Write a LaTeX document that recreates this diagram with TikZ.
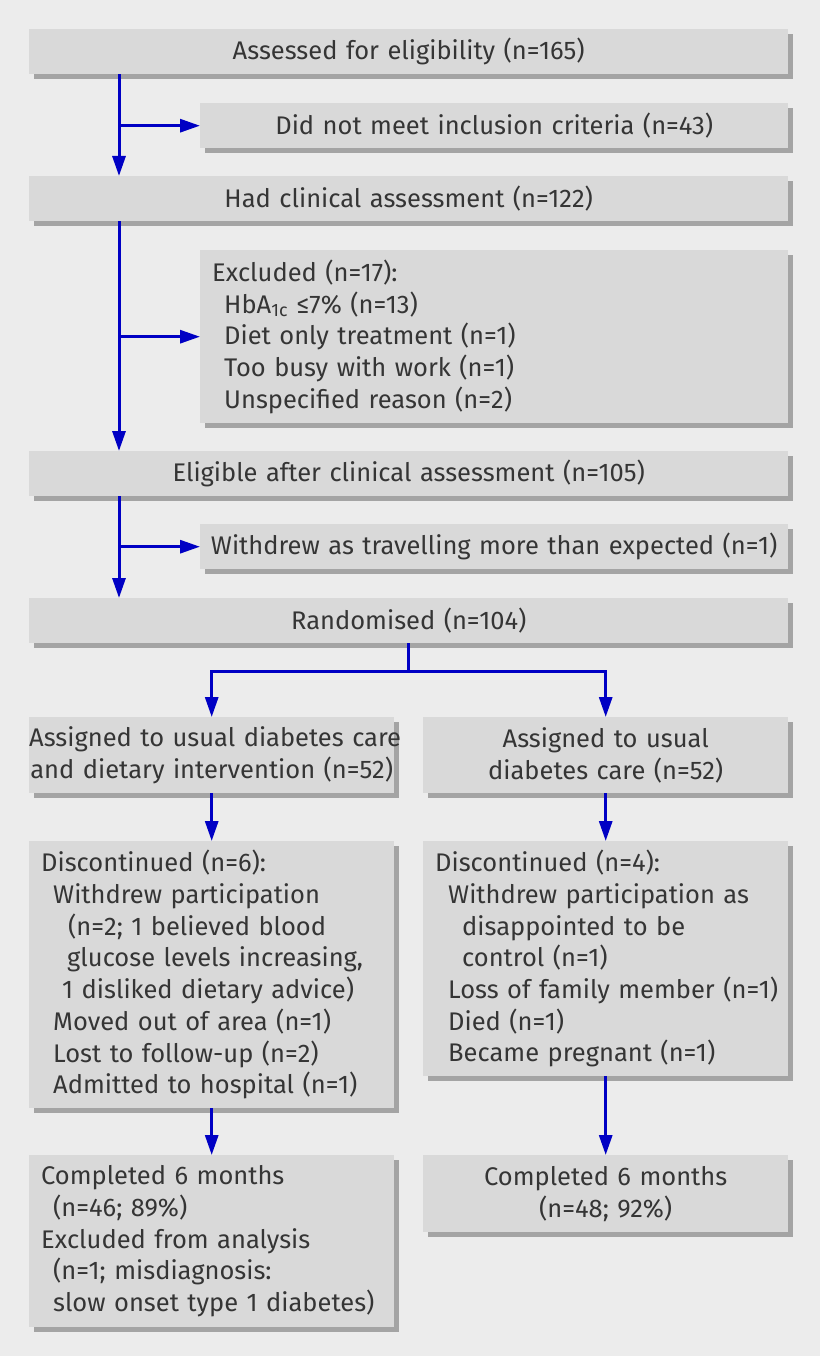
\documentclass[tikz,border=0pt]{standalone}
\usepackage{fontspec}
\setmainfont{Fira Sans}
\usetikzlibrary{arrows.meta,shadows,calc}
\definecolor{bg}{HTML}{ECECEC}
\definecolor{boxfill}{HTML}{D9D9D9}
\definecolor{shadowc}{HTML}{A4A4A4}
\definecolor{arrowblue}{HTML}{0000C4}
\definecolor{txt}{HTML}{353535}
\tikzset{
  box/.style={fill=boxfill, draw=none, inner sep=0pt, text=txt, anchor=north west,
    font=\fontsize{25.5}{31.7}\selectfont,
    drop shadow={shadow xshift=5pt, shadow yshift=-5pt, fill=shadowc, opacity=1}},
  lbox/.style={box, align=left, inner xsep=12pt},
  cbox/.style={box, align=center},
  flow/.style={draw=arrowblue, line width=3pt},
  arr/.style={flow, -{Triangle[length=20pt,width=13pt]}},
}
\newcommand{\li}[2]{\hspace*{#1pt}\mbox{#2}}
\begin{document}
\begin{tikzpicture}[x=1pt,y=-1pt]
\fill[bg] (0,0) rectangle (820,1356);
\useasboundingbox (0,0) rectangle (820,1356);

\node[cbox, text width=759pt, minimum height=45pt] (b1) at (29,29) {\li{0}{Assessed for eligibility (n=165)}};
\node[cbox, text width=588pt, minimum height=45pt] (b2) at (200,103) {\li{0}{Did not meet inclusion criteria (n=43)}};
\node[cbox, text width=759pt, minimum height=45pt] (b3) at (29,176) {\li{0}{Had clinical assessment (n=122)}};
\node[lbox, text width=564pt, minimum height=173pt] (b4) at (200,250) {\li{0}{Excluded (n=17):}\\
\li{12}{HbA\textsubscript{1c} ≤7\% (n=13)}\\
\li{12}{Diet only treatment (n=1)}\\
\li{12}{Too busy with work (n=1)}\\
\li{12}{Unspecified reason (n=2)}};
\node[cbox, text width=759pt, minimum height=45pt] (b5) at (29,451) {\li{0}{Eligible after clinical assessment (n=105)}};
\node[cbox, text width=588pt, minimum height=45pt] (b6) at (200,524) {\li{0}{Withdrew as travelling more than expected (n=1)}};
\node[cbox, text width=759pt, minimum height=45pt] (b7) at (29,598) {\li{0}{Randomised (n=104)}};

\node[cbox, text width=365pt, minimum height=76pt] (b8) at (29,717) {\li{0}{Assigned to usual diabetes care}\\\li{0}{and dietary intervention (n=52)}};
\node[cbox, text width=365pt, minimum height=76pt] (b9) at (423,717) {\li{0}{Assigned to usual}\\\li{0}{diabetes care (n=52)}};

\node[lbox, text width=341pt, minimum height=267pt] (b10) at (29,841) {\li{0}{Discontinued (n=6):}\\
\li{12}{Withdrew participation}\\
\li{27}{(n=2; 1 believed blood}\\
\li{26}{glucose levels increasing,}\\
\li{21}{1 disliked dietary advice)}\\
\li{12}{Moved out of area (n=1)}\\
\li{12}{Lost to follow-up (n=2)}\\
\li{12}{Admitted to hospital (n=1)}};
\node[lbox, text width=341pt, minimum height=235pt] (b11) at (423,841) {\li{0}{Discontinued (n=4):}\\
\li{13}{Withdrew participation as}\\
\li{27}{disappointed to be}\\
\li{27}{control (n=1)}\\
\li{13}{Loss of family member (n=1)}\\
\li{13}{Died (n=1)}\\
\li{13}{Became pregnant (n=1)}};

\node[lbox, text width=341pt, minimum height=172pt] (b12) at (29,1155) {\li{0}{Completed 6 months}\\
\li{12}{(n=46; 89\%)}\\
\li{0}{Excluded from analysis}\\
\li{12}{(n=1; misdiagnosis:}\\
\li{12}{slow onset type 1 diabetes)}};
\node[cbox, text width=365pt, minimum height=77pt] (b13) at (423,1155) {\li{0}{Completed 6 months}\\\li{0}{(n=48; 92\%)}};

% main trunk
\coordinate (m1) at ($(b1.south west)+(90,0)$);
\draw[arr] (m1) -- (m1 |- b3.north);
\draw[arr] (m1 |- b2.west) -- (b2.west);
\coordinate (m2) at ($(b3.south west)+(90,0)$);
\draw[arr] (m2) -- (m2 |- b5.north);
\draw[arr] (m2 |- b4.west) -- (b4.west);
\coordinate (m3) at ($(b5.south west)+(90,0)$);
\draw[arr] (m3) -- (m3 |- b7.north);
\draw[arr] (m3 |- b6.west) -- (b6.west);

% randomisation split
\draw[flow] (b7.south) -- ++(0,28) coordinate (r1);
\draw[arr] (r1) -| (b8.north);
\draw[arr] (r1) -| (b9.north);

% columns
\draw[arr] (b8.south) -- (b10.north -| b8.south);
\draw[arr] (b9.south) -- (b11.north -| b9.south);
\draw[arr] (b10.south -| b8.south) -- (b12.north -| b8.south);
\draw[arr] (b11.south -| b9.south) -- (b13.north -| b9.south);
\end{tikzpicture}
\end{document}
